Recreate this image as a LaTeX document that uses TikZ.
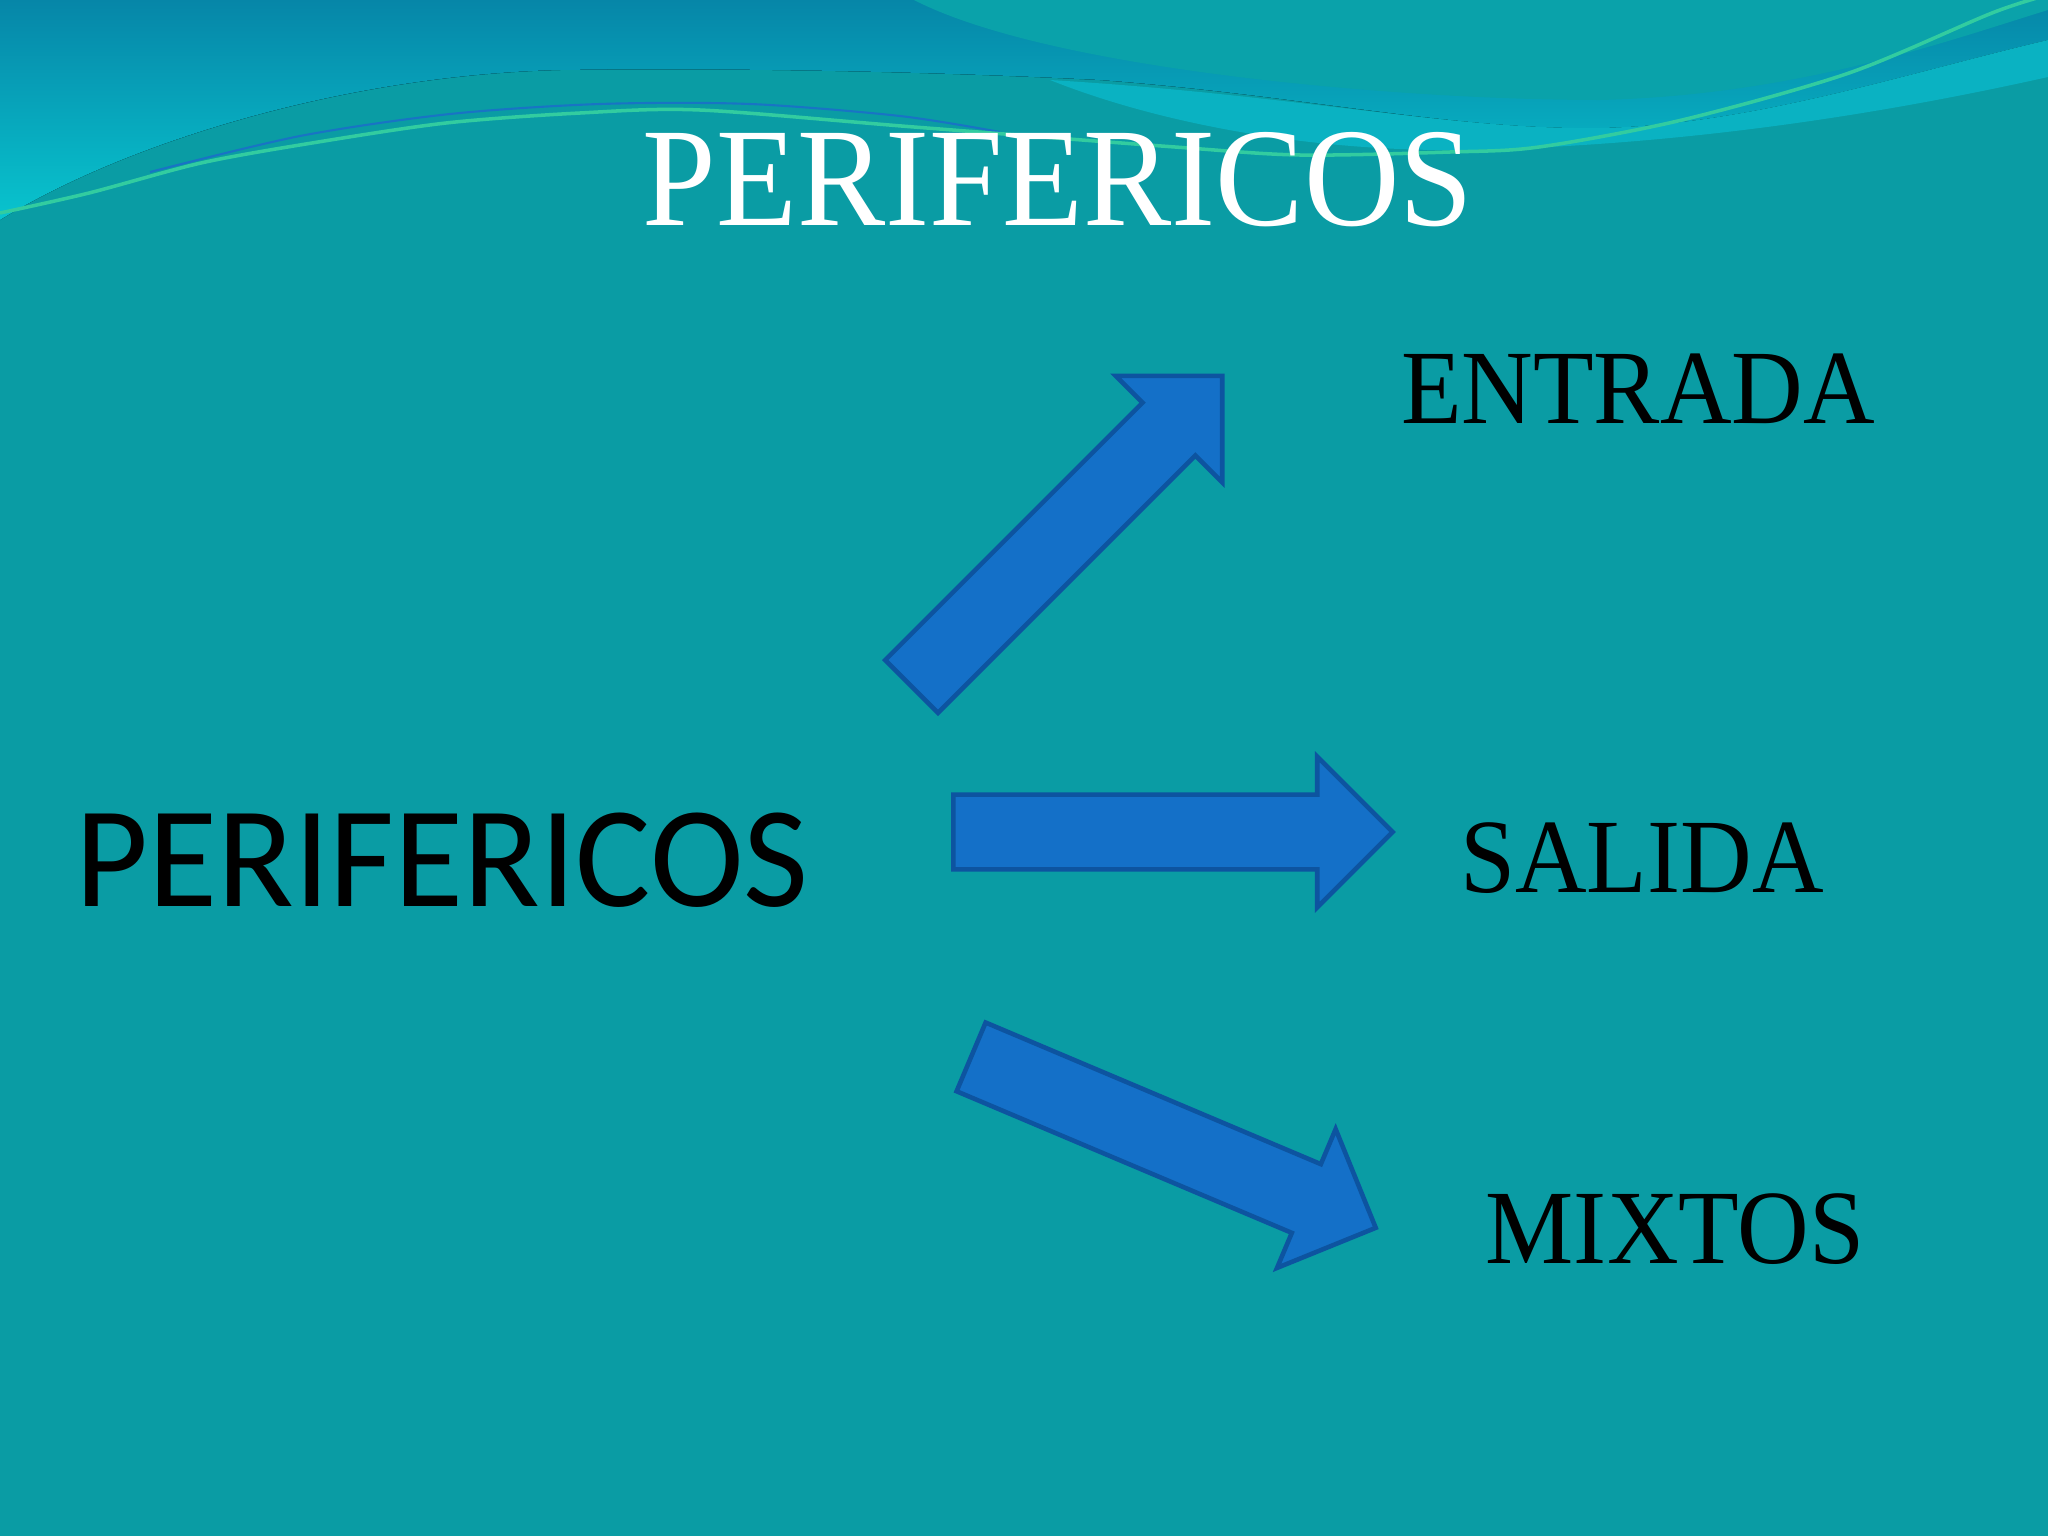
\documentclass[tikz,border=0pt]{standalone}
\usepackage{fontspec}
\setmainfont{Liberation Serif}
\newfontfamily\calibrifont{Carlito}
\usetikzlibrary{shapes.arrows}

\definecolor{slidebg}{RGB}{10,156,164}
\definecolor{wavedeep}{RGB}{6,134,168}
\definecolor{wavecyan}{RGB}{8,196,206}
\definecolor{waveteal}{RGB}{10,162,170}
\definecolor{waveband}{RGB}{10,178,194}
\definecolor{wavegreen}{RGB}{50,204,160}
\definecolor{waveblue}{RGB}{30,100,210}
\definecolor{arrowfill}{RGB}{20,112,200}
\definecolor{arrowedge}{RGB}{13,84,160}

\begin{document}
\begin{tikzpicture}[x=0.01cm, y=-0.01cm,
    % Styles
    heading/.style={font=\fontsize{40}{40}\selectfont, text=white, anchor=base, inner sep=0pt, xscale=0.94, transform shape},
    source/.style={font=\calibrifont\fontsize{41}{41}\selectfont, text=black, anchor=base, inner sep=0pt, xscale=0.98, transform shape},
    target/.style={font=\fontsize{30}{30}\selectfont, text=black, anchor=base, inner sep=0pt, xscale=0.94, transform shape},
    bigarrow/.style={single arrow, draw=arrowedge, fill=arrowfill, line width=1.3pt, minimum height=4.39cm, single arrow head extend=0.38cm, inner xsep=0pt, inner ysep=0.35cm, anchor=tail},
]

% Background
\fill[slidebg] (0,0) rectangle (2048,1536);
\useasboundingbox (0,0) rectangle (2048,1536);

% Waves at the top
\fill[top color=wavedeep, bottom color=wavecyan] (0,0) -- (2048,0) -- (2048,40)
    .. controls (1900,75) and (1750,125) .. (1600,128)
    .. controls (1450,130) and (1300,95) .. (1100,80)
    .. controls (900,70) and (700,68) .. (560,70)
    .. controls (350,75) and (130,140) .. (0,220) -- cycle;
\fill[waveband] (1050,80) .. controls (1300,95) and (1450,130) .. (1600,128)
    .. controls (1750,125) and (1900,75) .. (2048,40) -- (2048,77)
    .. controls (1900,110) and (1700,145) .. (1467,150)
    .. controls (1300,152) and (1150,120) .. (1050,80) -- cycle;
\fill[waveteal] (914,0) .. controls (1050,70) and (1400,100) .. (1600,100)
    .. controls (1800,95) and (1950,40) .. (2048,10) -- (2048,0) -- cycle;
\draw[waveblue, line width=0.6pt, opacity=0.7] plot[smooth] coordinates {(150,172) (300,136) (450,114) (600,104) (750,104) (900,116) (1000,132)};
\draw[wavegreen, line width=1pt] plot[smooth] coordinates {(0,213) (89,193) (201,163) (312,143) (446,123) (580,113) (700,110) (914,127) (1175,147) (1300,155) (1450,152) (1539,147) (1682,120) (1849,73) (1992,13) (2048,-5)};

% Title
\node[heading] (title) at (1058,225) {PERIFERICOS};

% Left text
\node[source] (perif) at (442,906) {PERIFERICOS};

% Block arrows
\node[bigarrow, rotate=45] (arrowin) at (910,688) {};
\node[bigarrow] (arrowout) at (951,832) {};
\node[bigarrow, rotate=-22.9] (arrowmix) at (969,1056) {};

% Right texts
\node[target] (entrada) at (1638,423) {ENTRADA};
\node[target] (salida) at (1642,892) {SALIDA};
\node[target] (mixtos) at (1675,1263) {MIXTOS};

\end{tikzpicture}
\end{document}
